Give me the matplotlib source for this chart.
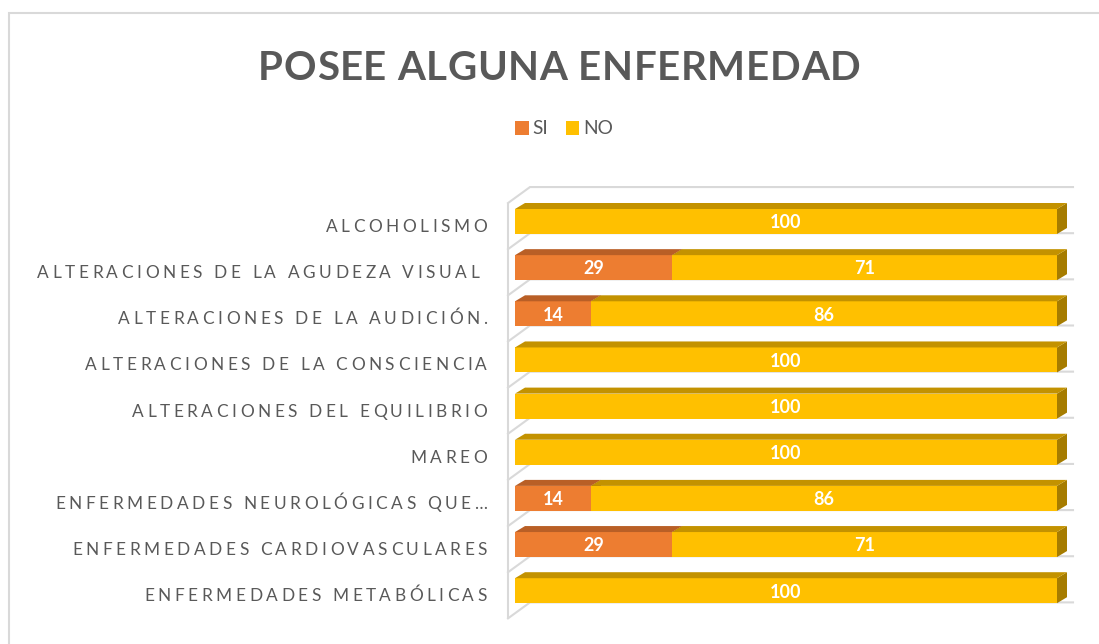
import matplotlib
matplotlib.use("Agg")
import matplotlib.pyplot as plt
from matplotlib.patches import Polygon, Rectangle
from matplotlib.transforms import IdentityTransform
from matplotlib.font_manager import FontProperties

# ---- data ----
categories = [
    "ALCOHOLISMO",
    "ALTERACIONES DE LA AGUDEZA VISUAL ",
    "ALTERACIONES DE LA AUDICIÓN.",
    "ALTERACIONES DE LA CONSCIENCIA",
    "ALTERACIONES DEL EQUILIBRIO",
    "MAREO",
    "ENFERMEDADES NEUROLÓGICAS QUE…",
    "ENFERMEDADES CARDIOVASCULARES",
    "ENFERMEDADES METABÓLICAS",
]
si_values = [0, 29, 14, 0, 0, 0, 14, 29, 0]
no_values = [100, 71, 86, 100, 100, 100, 86, 71, 100]
series_names = ["SI", "NO"]
chart_title = "POSEE ALGUNA ENFERMEDAD"

# ---- style ----
FONT = "Lato"
TEXT_COLOR = "#595959"
GRID_COLOR = "#D9D9D9"
face_colors = ["#ED7D31", "#FFC000"]
top_colors = ["#B95F26", "#C39200"]
side_colors = ["#A4520F", "#A67C00"]

W, H = 1099, 644
fig = plt.figure(figsize=(W / 100, H / 100), dpi=100)
fig.patch.set_facecolor("white")


def px_box(l, t, r, b):
    return [l / W, 1 - b / H, (r - l) / W, (b - t) / H]


# chart area border
fig.add_artist(Rectangle((9 / W, -0.1), 1.2, 1.1 - 13 / H, transform=fig.transFigure,
                         fill=False, edgecolor=GRID_COLOR, linewidth=1.5))

ax = fig.add_axes(px_box(508, 187, 1073, 620))
ax.set_axis_off()
xscale = 5.42      # pixels per percentage point
slot = 46.15       # pixels per category
x0, x1 = -7 / xscale, 100 + 16 / xscale
ax.set_xlim(x0, x1)
ax.set_ylim((620 - 221.5) / slot, -34.5 / slot)

n = len(categories)
ypos = list(range(n))
bar_h = 25 / slot
bdx, bdy = 10 / xscale, 6 / slot        # bar depth
wdx, wdy = 22 / xscale, 16 / slot       # wall depth

# walls: left side wall and back-wall gridlines
bounds = [k - 0.4 for k in range(n + 1)]
ax.plot([x0, x0], [bounds[0], bounds[-1]], color=GRID_COLOR, lw=1.5, zorder=1,
        clip_on=False, solid_capstyle="butt")
for yb in bounds:
    ax.plot([x0, x0 + wdx, x1], [yb, yb - wdy, yb - wdy], color=GRID_COLOR, lw=1.5,
            zorder=1, clip_on=False, solid_joinstyle="miter")

# stacked bars with 3D top and side faces
lefts = [0] * n
for s, vals in enumerate([si_values, no_values]):
    ax.barh(ypos, vals, height=bar_h, left=lefts, color=face_colors[s],
            label=series_names[s], zorder=3)
    for i, v in enumerate(vals):
        if v <= 0:
            continue
        l, r = lefts[i], lefts[i] + v
        top = ypos[i] - bar_h / 2
        bot = ypos[i] + bar_h / 2
        ax.add_patch(Polygon([(l, top), (r, top), (r + bdx, top - bdy), (l + bdx, top - bdy)],
                             closed=True, facecolor=top_colors[s], edgecolor="none", zorder=3))
        ax.add_patch(Polygon([(r, top), (r + bdx, top - bdy), (r + bdx, bot - bdy), (r, bot)],
                             closed=True, facecolor=side_colors[s], edgecolor="none", zorder=2.9))
        ax.text(l + v / 2, ypos[i] + 6.8 / slot, f"{v}", ha="center", va="baseline",
                color="white", fontsize=13, fontweight="bold", family=FONT, zorder=5)
    lefts = [a + b for a, b in zip(lefts, vals)]

# ---- letter-spaced text helpers ----
renderer = fig.canvas.get_renderer()


def advance(c, prop):
    w2 = renderer.get_text_width_height_descent("HH", prop, ismath=False)[0]
    w3 = renderer.get_text_width_height_descent("H" + c + "H", prop, ismath=False)[0]
    return w3 - w2


def natural_width(s, prop):
    return sum(advance(c, prop) for c in s)


def spaced_text(s, x, y, prop, tracking, ha, color):
    advs = [advance(c, prop) for c in s]
    total = sum(advs) + tracking * (len(s) - 1)
    if ha == "right":
        start = x - total
    elif ha == "center":
        start = x - total / 2
    else:
        start = x
    cx = start
    for c, a in zip(s, advs):
        fig.text(cx, y, c, transform=IdentityTransform(), fontproperties=prop,
                 color=color, ha="left", va="baseline")
        cx += a + tracking


cat_prop = FontProperties(family=FONT, size=12.4)
ref = "ALTERACIONES DE LA AGUDEZA VISUAL"
cat_track = (442 - natural_width(ref, cat_prop)) / (len(ref) - 1)
for i, name in enumerate(categories):
    yd = ax.transData.transform((0, ypos[i]))[1] - 10.5
    spaced_text(name, 487, yd, cat_prop, cat_track, "right", TEXT_COLOR)

title_prop = FontProperties(family=FONT, size=29, weight="bold")
title_track = (602 - natural_width(chart_title, title_prop)) / (len(chart_title) - 1)
spaced_text(chart_title, 559, H - 79.5, title_prop, title_track, "center", TEXT_COLOR)

# legend
leg = fig.legend(loc="center", bbox_to_anchor=(564 / W, 1 - 129 / H), ncol=2, frameon=False,
                 prop=FontProperties(family=FONT, size=13.8), handlelength=0.72,
                 handleheight=0.72, handletextpad=0.2, columnspacing=0.9, borderpad=0)
for t in leg.get_texts():
    t.set_color(TEXT_COLOR)

fig.savefig("out.png", dpi=100, facecolor="white")
